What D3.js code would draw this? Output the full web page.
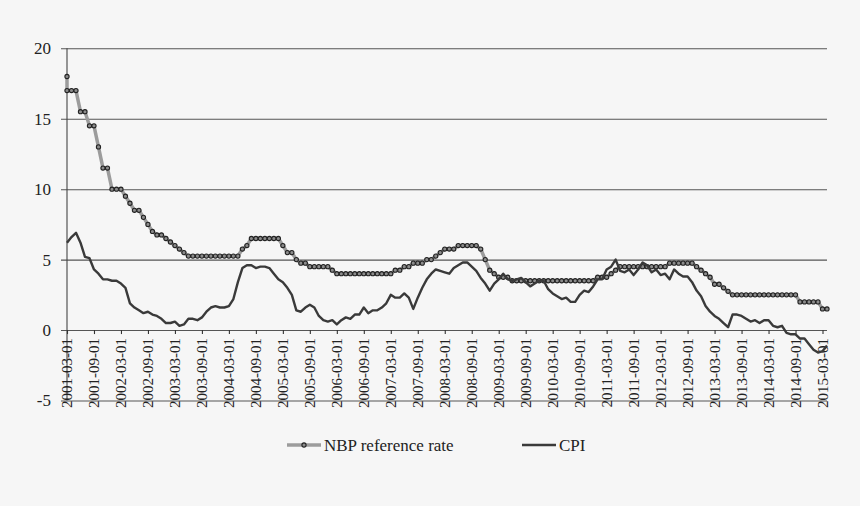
<!DOCTYPE html>
<html>
<head>
<meta charset="utf-8">
<script src="https://cdn.jsdelivr.net/npm/d3@7/dist/d3.min.js"></script>
<style>
  html, body { margin: 0; padding: 0; background: #f6f6f6; }
  svg { display: block; }
  svg text { font-family: "Times New Roman", Times, "Liberation Serif", "DejaVu Serif", serif !important; }
</style>
</head>
<body>
<svg id="chart" width="860" height="506"></svg>
<script>
// ---------------- data ----------------
const monthCount = 170; // 2001-03 .. 2015-04

const tickLabels = [
  "2001-03-01","2001-09-01","2002-03-01","2002-09-01","2003-03-01","2003-09-01",
  "2004-03-01","2004-09-01","2005-03-01","2005-09-01","2006-03-01","2006-09-01",
  "2007-03-01","2007-09-01","2008-03-01","2008-09-01","2009-03-01","2009-09-01",
  "2010-03-01","2010-09-01","2011-03-01","2011-09-01","2012-03-01","2012-09-01",
  "2013-03-01","2013-09-01","2014-03-01","2014-09-01","2015-03-01"
];

const yTicks = [-5, 0, 5, 10, 15, 20];

// NBP reference rate, monthly (2001-03 .. 2015-04)
const nbpOpening = 18; // extra first observation at 2001-03-01
const nbpRate = [
  17,17,17,15.5,15.5,14.5,14.5,13,11.5,11.5,
  10,10,10,9.5,9,8.5,8.5,8,7.5,7,6.75,6.75,
  6.5,6.25,6,5.75,5.5,5.25,5.25,5.25,5.25,5.25,5.25,5.25,
  5.25,5.25,5.25,5.25,5.25,5.75,6,6.5,6.5,6.5,6.5,6.5,
  6.5,6.5,6,5.5,5.5,5,4.75,4.75,4.5,4.5,4.5,4.5,
  4.5,4.25,4,4,4,4,4,4,4,4,4,4,
  4,4,4,4.25,4.25,4.5,4.5,4.75,4.75,4.75,5,5,
  5.25,5.5,5.75,5.75,5.75,6,6,6,6,6,5.75,5,
  4.25,4,3.75,3.75,3.75,3.5,3.5,3.5,3.5,3.5,3.5,3.5,
  3.5,3.5,3.5,3.5,3.5,3.5,3.5,3.5,3.5,3.5,3.5,3.5,
  3.75,3.75,3.75,4,4.25,4.5,4.5,4.5,4.5,4.5,4.5,4.5,
  4.5,4.5,4.5,4.5,4.75,4.75,4.75,4.75,4.75,4.75,4.5,4.25,
  4,3.75,3.25,3.25,3,2.75,2.5,2.5,2.5,2.5,2.5,2.5,
  2.5,2.5,2.5,2.5,2.5,2.5,2.5,2.5,2.5,2,2,2,
  2,2,1.5,1.5
];

// CPI, y/y %, monthly (2001-03 .. 2015-04)
const cpi = [
  6.2,6.6,6.9,6.2,5.2,5.1,4.3,4.0,3.6,3.6,
  3.5,3.5,3.3,3.0,1.9,1.6,1.4,1.2,1.3,1.1,1.0,0.8,
  0.5,0.5,0.6,0.3,0.4,0.8,0.8,0.7,0.9,1.3,1.6,1.7,
  1.6,1.6,1.7,2.2,3.4,4.4,4.6,4.6,4.4,4.5,4.5,4.4,
  4.0,3.6,3.4,3.0,2.5,1.4,1.3,1.6,1.8,1.6,1.0,0.7,
  0.6,0.7,0.4,0.7,0.9,0.8,1.1,1.1,1.6,1.2,1.4,1.4,
  1.6,1.9,2.5,2.3,2.3,2.6,2.3,1.5,2.3,3.0,3.6,4.0,
  4.3,4.2,4.1,4.0,4.4,4.6,4.8,4.8,4.5,4.2,3.7,3.3,
  2.8,3.3,3.6,4.0,3.6,3.5,3.6,3.7,3.4,3.1,3.3,3.5,
  3.5,2.9,2.6,2.4,2.2,2.3,2.0,2.0,2.5,2.8,2.7,3.1,
  3.6,3.6,4.3,4.5,5.0,4.2,4.1,4.3,3.9,4.3,4.8,4.6,
  4.1,4.3,3.9,4.0,3.6,4.3,4.0,3.8,3.8,3.4,2.8,2.4,
  1.7,1.3,1.0,0.8,0.5,0.2,1.1,1.1,1.0,0.8,0.6,0.7,
  0.5,0.7,0.7,0.3,0.2,0.3,-0.2,-0.3,-0.3,-0.6,-0.6,-1.0,
  -1.4,-1.6,-1.5,-1.1
];

const seriesNames = ["NBP reference rate", "CPI"];

// ---------------- chart ----------------
const FONT = "Times New Roman, Liberation Serif, serif";
const svg = d3.select("#chart");
svg.append("rect").attr("width", 860).attr("height", 506).attr("fill", "#f6f6f6");

const x = d3.scaleLinear().domain([0, monthCount - 1]).range([67, 827]);
const y = d3.scaleLinear().domain([-5, 20]).range([400.5, 48.3]);

// y gridlines + labels
const yAxis = d3.axisLeft(y).tickValues(yTicks).tickSize(-(827 - 61)).tickPadding(10).tickFormat(d => String(d));
const gy = svg.append("g").attr("transform", "translate(61,0)").call(yAxis)
  .attr("font-family", FONT);
gy.select(".domain").remove();
gy.selectAll(".tick line").attr("stroke", "#555").attr("stroke-width", 1.1);
gy.selectAll(".tick text").attr("font-family", FONT).attr("font-size", 17).attr("fill", "#222");

// y axis line
svg.append("line")
  .attr("x1", x(0)).attr("x2", x(0))
  .attr("y1", y(20)).attr("y2", y(-5))
  .attr("stroke", "#444").attr("stroke-width", 1.1);

// x axis at 0
const tickIdx = d3.range(0, monthCount, 6);
const xAxis = d3.axisBottom(x).tickValues(tickIdx).tickSize(4).tickFormat(i => tickLabels[i / 6]);
const gx = svg.append("g").attr("transform", `translate(0,${y(0)})`).call(xAxis)
  .attr("font-family", FONT);
gx.select(".domain").remove();
gx.selectAll(".tick line").attr("stroke", "#333").attr("stroke-width", 1.1);
gx.selectAll(".tick text")
  .attr("font-family", FONT)
  .attr("font-size", 15)
  .attr("fill", "#222")
  .attr("transform", "rotate(-90)")
  .attr("x", -8).attr("y", 0).attr("dy", "0.33em")
  .style("text-anchor", "end");

// NBP series
const nbpPoints = [{ i: 0, v: nbpOpening }].concat(nbpRate.map((v, i) => ({ i, v })));
const line = d3.line().x(d => x(d.i)).y(d => y(d.v));
svg.append("path").datum(nbpPoints)
  .attr("d", line).attr("fill", "none")
  .attr("stroke", "#9c9c9c").attr("stroke-width", 3.5).attr("stroke-linejoin", "round");
svg.append("g").selectAll("circle").data(nbpPoints).join("circle")
  .attr("cx", d => x(d.i)).attr("cy", d => y(d.v)).attr("r", 2.1)
  .attr("fill", "#8c8c8c").attr("stroke", "#222").attr("stroke-width", 1.1);

// CPI series
svg.append("path").datum(cpi.map((v, i) => ({ i, v })))
  .attr("d", line).attr("fill", "none")
  .attr("stroke", "#3a3a3a").attr("stroke-width", 2.4).attr("stroke-linejoin", "round");

// legend
const lg = svg.append("g").attr("font-family", FONT);
lg.append("line").attr("x1", 287).attr("x2", 321).attr("y1", 445).attr("y2", 445)
  .attr("stroke", "#9c9c9c").attr("stroke-width", 3.5);
lg.append("circle").attr("cx", 304).attr("cy", 445).attr("r", 2.1)
  .attr("fill", "#8c8c8c").attr("stroke", "#222").attr("stroke-width", 1.1);
lg.append("text").attr("x", 324).attr("y", 445).attr("dy", "0.35em")
  .attr("font-size", 17).attr("fill", "#222").text(seriesNames[0]);
lg.append("line").attr("x1", 522).attr("x2", 556).attr("y1", 445).attr("y2", 445)
  .attr("stroke", "#3a3a3a").attr("stroke-width", 2.6);
lg.append("text").attr("x", 559).attr("y", 445).attr("dy", "0.35em")
  .attr("font-size", 17).attr("fill", "#222").text(seriesNames[1]);
</script>
</body>
</html>
